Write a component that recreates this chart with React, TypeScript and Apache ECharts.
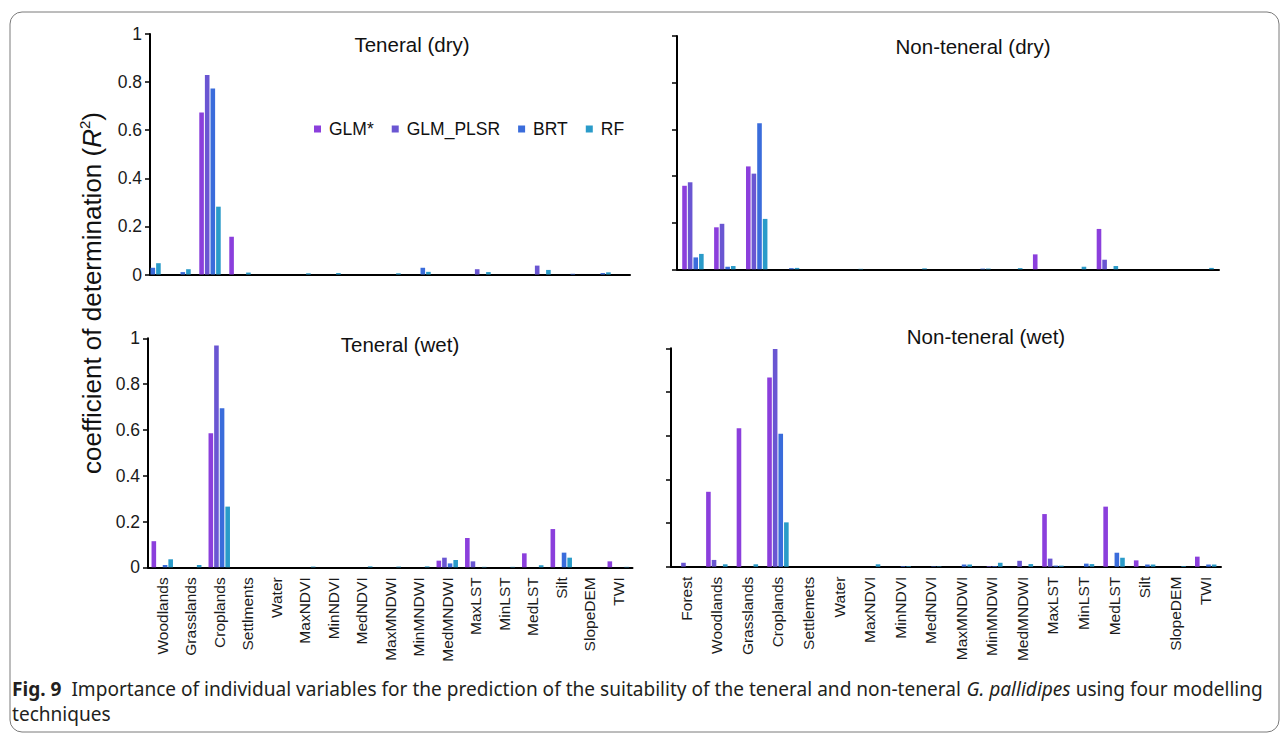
import { useEffect, useRef } from 'react';
import * as echarts from 'echarts';

// Modelling techniques and their bar colours
const methods = ['GLM*', 'GLM_PLSR', 'BRT', 'RF'];
const methodColors = ['#8b3fdc', '#6a56d2', '#3a6cdb', '#2a9bc9'];

// Predictor variables
const teneralVars = [
  'Woodlands', 'Grasslands', 'Croplands', 'Settlments', 'Water', 'MaxNDVI', 'MinNDVI', 'MedNDVI',
  'MaxMNDWI', 'MinMNDWI', 'MedMNDWI', 'MaxLST', 'MinLST', 'MedLST', 'Silt', 'SlopeDEM', 'TWI',
];
const nonTeneralDryVars = teneralVars;
const nonTeneralWetVars = [
  'Forest', 'Woodlands', 'Grasslands', 'Croplands', 'Settlemets', 'Water', 'MaxNDVI', 'MinNDVI', 'MedNDVI',
  'MaxMNDWI', 'MinMNDWI', 'MedMNDWI', 'MaxLST', 'MinLST', 'MedLST', 'Silt', 'SlopeDEM', 'TWI',
];

// R² per variable – Teneral (dry)
const tdGLM = [0, 0, 0.674, 0.157, 0, 0, 0, 0, 0, 0, 0, 0, 0, 0, 0, 0, 0];
const tdPLSR = [0, 0, 0.83, 0, 0, 0, 0, 0, 0, 0, 0, 0.022, 0, 0.037, 0, 0, 0];
const tdBRT = [0.028, 0.01, 0.773, 0, 0, 0, 0, 0, 0, 0.028, 0, 0, 0, 0, 0.003, 0.006, 0];
const tdRF = [0.047, 0.022, 0.282, 0.008, 0, 0.005, 0.006, 0, 0.005, 0.011, 0, 0.01, 0, 0.019, 0, 0.009, 0];

// R² per variable – Non-teneral (dry)
const ndGLM = [0.358, 0.18, 0.441, 0, 0, 0, 0, 0, 0, 0, 0, 0.064, 0, 0.173, 0, 0, 0];
const ndPLSR = [0.373, 0.195, 0.41, 0, 0, 0, 0, 0, 0, 0, 0, 0, 0, 0.041, 0, 0, 0];
const ndBRT = [0.051, 0.011, 0.626, 0.005, 0, 0, 0, 0, 0, 0.003, 0, 0, 0, 0, 0, 0, 0];
const ndRF = [0.066, 0.014, 0.216, 0.006, 0, 0.002, 0, 0.004, 0, 0.003, 0.005, 0, 0.011, 0.014, 0, 0, 0.006];

// R² per variable – Teneral (wet)
const twGLM = [0.114, 0, 0.585, 0, 0, 0, 0, 0, 0, 0, 0.029, 0.128, 0, 0.061, 0.167, 0, 0.026];
const twPLSR = [0, 0, 0.969, 0, 0, 0, 0, 0, 0, 0, 0.042, 0.026, 0, 0, 0, 0, 0];
const twBRT = [0.01, 0, 0.694, 0, 0, 0, 0, 0, 0, 0, 0.017, 0, 0, 0, 0.064, 0, 0];
const twRF = [0.035, 0.01, 0.265, 0, 0, 0.003, 0, 0.004, 0.003, 0.004, 0.032, 0.002, 0.002, 0.009, 0.042, 0, 0.002];

// R² per variable – Non-teneral (wet)
const nwGLM = [0, 0.343, 0.634, 0.866, 0, 0, 0, 0, 0, 0, 0, 0, 0.241, 0, 0.275, 0.029, 0, 0.046];
const nwPLSR = [0.018, 0.031, 0, 0.997, 0, 0, 0, 0, 0, 0, 0.003, 0.027, 0.037, 0, 0, 0, 0, 0];
const nwBRT = [0, 0, 0, 0.609, 0, 0, 0, 0.003, 0.002, 0.01, 0.003, 0, 0.005, 0.014, 0.064, 0.01, 0, 0.01];
const nwRF = [0, 0.011, 0.011, 0.203, 0, 0, 0.011, 0.003, 0.002, 0.01, 0.018, 0.012, 0.005, 0.012, 0.041, 0.01, 0.003, 0.01];

const yTicks = { min: 0, max: 1, interval: 0.2 };

const panelTitles = ['Teneral (dry)', 'Non-teneral (dry)', 'Teneral (wet)', 'Non-teneral (wet)'];
const yAxisTitle = 'coefficient of determination (';
const captionLead = 'Fig. 9';
const captionBody = '  Importance of individual variables for the prediction of the suitability of the teneral and non-teneral ';
const captionSpecies = 'G. pallidipes';
const captionTail = ' using four modelling';
const captionLine2 = 'techniques';

const FONT = "'Liberation Sans', Arial, sans-serif";
const CAPTION_FONT = "'Noto Sans', 'Open Sans', sans-serif";

function measure(font: string, text: string): number {
  const ctx = document.createElement('canvas').getContext('2d');
  if (!ctx) return text.length * 8;
  ctx.font = font;
  return ctx.measureText(text).width;
}

export default function App() {
  const ref = useRef<HTMLDivElement>(null);

  useEffect(() => {
    if (!ref.current) return;
    const chart = echarts.init(ref.current, undefined, { renderer: 'svg' });

    const panels = [
      { cats: teneralVars, data: [tdGLM, tdPLSR, tdBRT, tdRF], grid: { left: 150, top: 34, width: 480, height: 240.5 }, onTicks: true, yLabels: true, xLabels: false },
      { cats: nonTeneralDryVars, data: [ndGLM, ndPLSR, ndBRT, ndRF], grid: { left: 677, top: 36, width: 542, height: 233.3 }, onTicks: false, yLabels: false, xLabels: false },
      { cats: teneralVars, data: [twGLM, twPLSR, twBRT, twRF], grid: { left: 148, top: 338.3, width: 484.5, height: 229 }, onTicks: false, yLabels: true, xLabels: true },
      { cats: nonTeneralWetVars, data: [nwGLM, nwPLSR, nwBRT, nwRF], grid: { left: 671, top: 348.3, width: 550, height: 218.4 }, onTicks: false, yLabels: false, xLabels: true },
    ];

    const grid = panels.map((p) => ({ ...p.grid, containLabel: false, outerBoundsMode: 'none' }));

    const xAxis = panels.map((p, i) => ({
      type: 'category',
      gridIndex: i,
      data: p.cats,
      boundaryGap: !p.onTicks,
      axisLine: { show: true, lineStyle: { color: '#000', width: 2 } },
      axisTick: { show: false },
      axisLabel: {
        show: p.xLabels,
        interval: 0,
        rotate: 90,
        margin: 10,
        fontSize: 15.5,
        fontFamily: FONT,
        color: '#1a1a1a',
      },
      splitLine: { show: false },
    }));

    const yAxis = panels.map((p, i) => ({
      type: 'value',
      gridIndex: i,
      ...yTicks,
      axisLine: { show: true, lineStyle: { color: '#000', width: 2 } },
      axisTick: { show: true, inside: false, length: 5, lineStyle: { color: '#000', width: 1.5 } },
      axisLabel: {
        show: p.yLabels,
        margin: 8,
        fontSize: 17.5,
        fontFamily: FONT,
        color: '#1a1a1a',
        formatter: (v: number) => String(Math.round(v * 10) / 10),
      },
      splitLine: { show: false },
    }));

    const series: any[] = [];
    panels.forEach((p, i) => {
      methods.forEach((m, k) => {
        series.push({
          type: 'bar',
          name: m,
          xAxisIndex: i,
          yAxisIndex: i,
          data: p.data[k],
          barWidth: 4.6,
          barGap: '22%',
          itemStyle: { color: methodColors[k] },
          silent: true,
        });
      });
    });

    const titlePos = [
      [412, 44],
      [973, 46],
      [400, 344],
      [986, 336],
    ];

    const captionSize = 20;
    const w1 =
      measure(`bold ${captionSize}px ${CAPTION_FONT}`, captionLead) +
      measure(`${captionSize}px ${CAPTION_FONT}`, captionBody + captionTail) +
      measure(`italic ${captionSize}px ${CAPTION_FONT}`, captionSpecies);
    const capScale = 1251 / w1;

    const captionRich = {
      b: { fontWeight: 'bold', fontSize: captionSize, fontFamily: CAPTION_FONT, fill: '#231f20' },
      n: { fontSize: captionSize, fontFamily: CAPTION_FONT, fill: '#231f20' },
      i: { fontStyle: 'italic', fontSize: captionSize, fontFamily: CAPTION_FONT, fill: '#231f20' },
    };

    const graphic: any[] = [
      {
        type: 'rect',
        shape: { x: 10, y: 12, width: 1269, height: 720, r: 12 },
        style: { fill: 'none', stroke: '#7a7a7a', lineWidth: 1 },
        silent: true,
      },
      ...panelTitles.map((t, i) => ({
        type: 'text',
        x: titlePos[i][0],
        y: titlePos[i][1],
        style: {
          text: t,
          fontSize: 20.5,
          fontFamily: FONT,
          fill: '#111',
          align: 'center',
          verticalAlign: 'middle',
          textAlign: 'center',
          textVerticalAlign: 'middle',
        },
        silent: true,
      })),
      {
        type: 'text',
        x: 92,
        y: 293,
        rotation: Math.PI / 2,
        style: {
          text: `{a|${yAxisTitle}}{i|R}{s|2}{a|)}`,
          align: 'center',
          verticalAlign: 'middle',
          textAlign: 'center',
          textVerticalAlign: 'middle',
          rich: {
            a: { fontSize: 26, fontFamily: FONT, fill: '#111', lineHeight: 30 },
            i: { fontSize: 26, fontFamily: FONT, fontStyle: 'italic', fill: '#111', lineHeight: 30 },
            s: { fontSize: 15, fontFamily: FONT, fill: '#111', verticalAlign: 'top', lineHeight: 30 },
          },
        },
        silent: true,
      },
      {
        type: 'text',
        x: 12,
        y: 688,
        scaleX: capScale,
        style: {
          text: `{b|${captionLead}}{n|${captionBody}}{i|${captionSpecies}}{n|${captionTail}}`,
          align: 'left',
          verticalAlign: 'middle',
          textAlign: 'left',
          textVerticalAlign: 'middle',
          rich: captionRich,
        },
        silent: true,
      },
      {
        type: 'text',
        x: 12,
        y: 713,
        scaleX: capScale,
        style: {
          text: captionLine2,
          fontSize: captionSize,
          fontFamily: CAPTION_FONT,
          fill: '#231f20',
          align: 'left',
          verticalAlign: 'middle',
          textAlign: 'left',
          textVerticalAlign: 'middle',
        },
        silent: true,
      },
    ];

    chart.setOption({
      animation: false,
      backgroundColor: '#fff',
      legend: {
        data: methods,
        left: 314,
        top: 120,
        icon: 'rect',
        itemWidth: 7,
        itemHeight: 7,
        itemGap: 18,
        padding: 0,
        textStyle: { fontSize: 17.5, fontFamily: FONT, color: '#111', padding: [0, 0, 0, 3] },
        selectedMode: false,
      },
      grid,
      xAxis,
      yAxis,
      series,
      graphic,
    } as any);

    return () => chart.dispose();
  }, []);

  return (
    <div
      ref={ref}
      style={{ position: 'absolute', left: 0, top: 0, width: 1285, height: 735, background: '#fff' }}
    />
  );
}
